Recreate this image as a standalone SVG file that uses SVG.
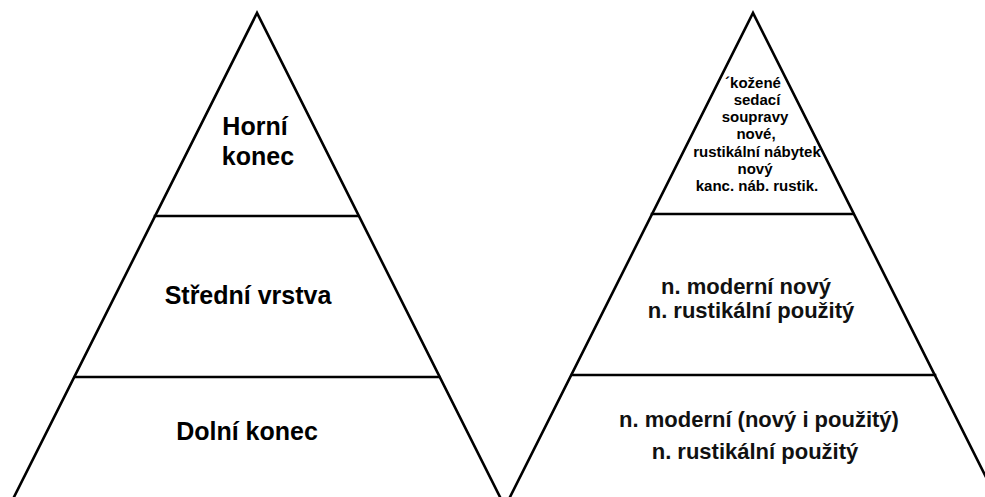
<svg xmlns="http://www.w3.org/2000/svg" width="985" height="497" viewBox="0 0 985 497">
<style>
.ln{stroke:#000;stroke-width:2.6;fill:none;stroke-linecap:square}
.big{font-family:"Liberation Sans",Arial,sans-serif;font-weight:bold;font-size:25px;fill:#000;text-anchor:middle}
.mid{font-family:"Liberation Sans",Arial,sans-serif;font-weight:bold;font-size:22px;fill:#111;text-anchor:middle}
.sm{font-family:"Liberation Sans",Arial,sans-serif;font-weight:bold;font-size:15px;fill:#000;text-anchor:middle}
</style>
<rect width="985" height="497" fill="#fff"/>
<g id="connectors">
<polyline class="ln" points="13,499 257,13 501,499"/>
<line class="ln" x1="155" y1="216" x2="357" y2="216"/>
<line class="ln" x1="75" y1="377" x2="439" y2="377"/>
<polyline class="ln" points="509,499 753,13 997,499"/>
<line class="ln" x1="652" y1="214" x2="853" y2="214"/>
<line class="ln" x1="572" y1="375" x2="935" y2="375"/>
</g>
<g id="left-top">
<text class="big" x="255" y="135">Horní</text>
<text class="big" x="258" y="165">konec</text>
</g>
<g id="left-middle">
<text class="big" x="248" y="304">Střední vrstva</text>
</g>
<g id="left-bottom">
<text class="big" x="247" y="440">Dolní konec</text>
</g>
<g id="right-top">
<text class="sm" x="753" y="88">´kožené</text>
<text class="sm" x="757" y="105">sedací</text>
<text class="sm" x="755" y="122">soupravy</text>
<text class="sm" x="756" y="139">nové,</text>
<text class="sm" x="757" y="157">rustikální nábytek</text>
<text class="sm" x="755" y="174">nový</text>
<text class="sm" x="757" y="191">kanc. náb. rustik.</text>
</g>
<g id="right-middle">
<text class="mid" x="746" y="294">n. moderní nový</text>
<text class="mid" x="751" y="318">n. rustikální použitý</text>
</g>
<g id="right-bottom">
<text class="mid" x="759" y="427">n. moderní (nový i použitý)</text>
<text class="mid" x="755" y="459">n. rustikální použitý</text>
</g>
</svg>
